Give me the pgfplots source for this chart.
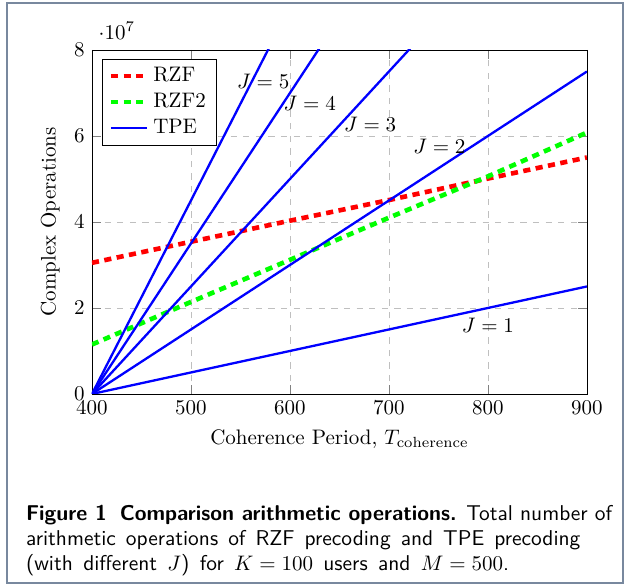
\documentclass[border=0pt]{standalone}
\usepackage{pgfplots}
\pgfplotsset{compat=1.18}

\definecolor{framecol}{RGB}{120,136,158}

\begin{document}
\begin{tikzpicture}
\path[use as bounding box] (-43.8pt,-91.4pt) rectangle (254.3pt,187.6pt);
\draw[framecol, line width=0.9pt] (-40.5pt,-90pt) rectangle (252.9pt,186.2pt);

\begin{axis}[
  at={(0,0)}, anchor=south west,
  scale only axis, width=235.7pt, height=163.8pt,
  xmin=400, xmax=900, ymin=0, ymax=8e7,
  xtick={400,500,...,900}, ytick={0,2e7,4e7,6e7,8e7},
  grid=major, major grid style={dashed, gray!50},
  xlabel={Coherence Period, $T_{\mathrm{coherence}}$},
  ylabel={Complex Operations},
  legend style={at={(0.02,0.975)}, anchor=north west},
  legend cell align=left,
  legend entries={RZF, RZF2, TPE},
]
% RZF and RZF2
\addplot[red, line width=2.2pt, dash pattern=on 3.4pt off 2.6pt] coordinates {
  (400,3.05e7) (500,3.54e7) (600,4.03e7) (700,4.51e7) (800,5.01e7) (900,5.50e7)};
\addplot[green, line width=2.2pt, dash pattern=on 3.4pt off 2.6pt] coordinates {
  (400,1.15e7) (500,2.14e7) (600,3.12e7) (700,4.10e7) (800,5.06e7) (900,6.08e7)};
% TPE, J = 1..5
\addplot[blue, line width=1.1pt] coordinates {(400,0) (900,2.5e7)};
\addplot[blue, line width=1.1pt] coordinates {(400,0) (900,7.5e7)};
\addplot[blue, line width=1.1pt] coordinates {(400,0) (900,12.5e7)};
\addplot[blue, line width=1.1pt] coordinates {(400,0) (900,17.5e7)};
\addplot[blue, line width=1.1pt] coordinates {(400,0) (900,22.5e7)};

\node at (axis cs:573,7.26e7) {$J=5$};
\node at (axis cs:620,6.77e7) {$J=4$};
\node at (axis cs:681,6.26e7) {$J=3$};
\node at (axis cs:751,5.77e7) {$J=2$};
\node at (axis cs:800,1.60e7) {$J=1$};
\end{axis}

\node[anchor=base west, inner sep=0] at (-31.6pt,-60.2pt)
  {\fontsize{10.2}{12}\selectfont\sffamily\textbf{Figure 1\hspace{0.6em}Comparison arithmetic operations.} Total number of};
\node[anchor=base west, inner sep=0] at (-31.6pt,-72.1pt)
  {\fontsize{10.2}{12}\selectfont\sffamily\makebox[264pt][s]{arithmetic operations of RZF precoding and TPE precoding}};
\node[anchor=base west, inner sep=0] at (-31.6pt,-84.0pt)
  {\fontsize{10.2}{12}\selectfont\sffamily\makebox[230pt][s]{(with different \mbox{$J$}) for \mbox{$K=100$} users and \mbox{$M=500$}.}};
\end{tikzpicture}
\end{document}
